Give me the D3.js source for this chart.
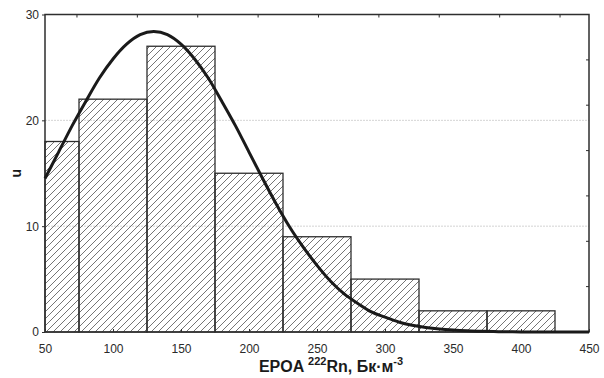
<!DOCTYPE html>
<html>
<head>
<meta charset="utf-8">
<script src="https://cdn.jsdelivr.net/npm/d3@7"></script>
<style>
  body { margin: 0; background: #fff; }
  svg { display: block; font-family: "Liberation Sans", Arial, sans-serif; }
</style>
</head>
<body>
<div id="chart"></div>
<script>
// histogram bins (EPOA, Bq/m3) and counts
const binStart = [50, 75, 125, 175, 225, 275, 325, 375];
const binEnd   = [75, 125, 175, 225, 275, 325, 375, 425];
const counts   = [18, 22, 27, 15, 9, 5, 2, 2];

// fitted curve
const curveX = [50, 60, 70, 80, 90, 100, 110, 120, 130, 140, 150, 160, 170, 180, 190, 200,
  210, 220, 230, 240, 250, 260, 270, 280, 290, 300, 310, 320, 330, 340, 350, 360, 370, 380,
  390, 400, 410, 420, 430, 440, 450];
const curveY = [14.5, 17.0, 19.5, 21.8, 24.0, 25.8, 27.2, 28.1, 28.4, 28.1, 27.2, 25.8, 24.0,
  21.8, 19.5, 17.0, 14.5, 12.1, 9.9, 8.0, 6.3, 4.8, 3.6, 2.7, 1.9, 1.4, 0.95, 0.64, 0.43,
  0.28, 0.18, 0.11, 0.07, 0.04, 0.02, 0.01, 0.01, 0, 0, 0, 0];

const xTicks = [50, 100, 150, 200, 250, 300, 350, 400, 450];
const yTicks = [0, 10, 20, 30];
const gridTicks = [10, 20];
// unlabeled ticks on the top and right frame
const topTicks = [73.5, 117.9, 162.3, 206.7, 251.1, 295.5, 339.9, 384.3, 428.7];
const rightTicks = [4.29, 8.57, 12.86, 17.14, 21.43, 25.71];

const width = 604;
const height = 378;
const margin = { top: 14.5, right: 15, bottom: 46, left: 45 };

const svg = d3.select('#chart')
  .append('svg')
  .attr('width', width)
  .attr('height', height);

// hatch pattern for bars
const defs = svg.append('defs');
defs.append('pattern')
  .attr('id', 'hatch')
  .attr('patternUnits', 'userSpaceOnUse')
  .attr('width', 7)
  .attr('height', 7)
  .append('path')
  .attr('d', 'M-1,1 l2,-2 M0,7 l7,-7 M6,8 l2,-2')
  .attr('stroke', '#3a3a3a')
  .attr('stroke-width', 0.7);

const xScale = d3.scaleLinear()
  .domain([50, 450])
  .range([margin.left, width - margin.right]);

const yScale = d3.scaleLinear()
  .domain([0, 30])
  .range([height - margin.bottom, margin.top]);

// dotted grid
svg.append('g')
  .selectAll('line')
  .data(gridTicks)
  .join('line')
  .attr('x1', xScale(50))
  .attr('x2', xScale(450))
  .attr('y1', d => yScale(d))
  .attr('y2', d => yScale(d))
  .attr('stroke', '#d4d4d4')
  .attr('stroke-width', 1)
  .attr('stroke-dasharray', '2,1');

// bars
svg.append('g')
  .selectAll('rect')
  .data(counts)
  .join('rect')
  .attr('x', (d, i) => xScale(binStart[i]))
  .attr('y', d => yScale(d))
  .attr('width', (d, i) => xScale(binEnd[i]) - xScale(binStart[i]))
  .attr('height', d => yScale(0) - yScale(d))
  .attr('fill', 'url(#hatch)')
  .attr('stroke', '#2e2e2e')
  .attr('stroke-width', 1.3);

// frame
svg.append('rect')
  .attr('x', xScale(50))
  .attr('y', yScale(30))
  .attr('width', xScale(450) - xScale(50))
  .attr('height', yScale(0) - yScale(30))
  .attr('fill', 'none')
  .attr('stroke', '#2e2e2e')
  .attr('stroke-width', 1.5);

// bottom axis
svg.append('g')
  .attr('transform', 'translate(0,' + yScale(0) + ')')
  .call(d3.axisBottom(xScale).tickValues(xTicks).tickSizeInner(-3).tickSizeOuter(0).tickPadding(12))
  .call(g => g.select('.domain').remove())
  .call(g => g.selectAll('.tick line').attr('stroke', '#2e2e2e'))
  .call(g => g.selectAll('.tick text')
    .attr('fill', '#2a2a2a')
    .style('font-size', '12px')
    .style('font-family', '"Liberation Sans", Arial, sans-serif'));

// left axis
svg.append('g')
  .attr('transform', 'translate(' + xScale(50) + ',0)')
  .call(d3.axisLeft(yScale).tickValues(yTicks).tickSizeInner(3).tickSizeOuter(0).tickPadding(3))
  .call(g => g.select('.domain').remove())
  .call(g => g.selectAll('.tick line').attr('stroke', '#2e2e2e'))
  .call(g => g.selectAll('.tick text')
    .attr('fill', '#2a2a2a')
    .style('font-size', '12px')
    .style('font-family', '"Liberation Sans", Arial, sans-serif'));

// top ticks
svg.append('g')
  .selectAll('line')
  .data(topTicks)
  .join('line')
  .attr('x1', d => xScale(d))
  .attr('x2', d => xScale(d))
  .attr('y1', yScale(30))
  .attr('y2', yScale(30) + 3)
  .attr('stroke', '#2e2e2e');

// right ticks
svg.append('g')
  .selectAll('line')
  .data(rightTicks)
  .join('line')
  .attr('x1', xScale(450))
  .attr('x2', xScale(450) - 3)
  .attr('y1', d => yScale(d))
  .attr('y2', d => yScale(d))
  .attr('stroke', '#2e2e2e');

// fitted curve
const line = d3.line()
  .x((d, i) => xScale(curveX[i]))
  .y(d => yScale(d))
  .curve(d3.curveMonotoneX);

svg.append('path')
  .attr('d', line(curveY))
  .attr('fill', 'none')
  .attr('stroke', '#1a1a1a')
  .attr('stroke-width', 3)
  .attr('stroke-linejoin', 'round');

// y-axis title
svg.append('text')
  .attr('transform', 'translate(21,' + yScale(15) + ') rotate(-90)')
  .attr('text-anchor', 'middle')
  .attr('fill', '#1a1a1a')
  .style('font-size', '14px')
  .style('font-weight', 'bold')
  .text('u');

// x-axis title
const xTitle = svg.append('text')
  .attr('x', 331)
  .attr('y', 372)
  .attr('text-anchor', 'middle')
  .attr('fill', '#1a1a1a')
  .style('font-size', '16px')
  .style('font-weight', 'bold');
xTitle.append('tspan').text('EPOA ');
xTitle.append('tspan').attr('dy', -7).style('font-size', '11px').text('222');
xTitle.append('tspan').attr('dy', 7).text('Rn, Бк·м');
xTitle.append('tspan').attr('dy', -7).style('font-size', '11px').text('-3');
</script>
</body>
</html>
